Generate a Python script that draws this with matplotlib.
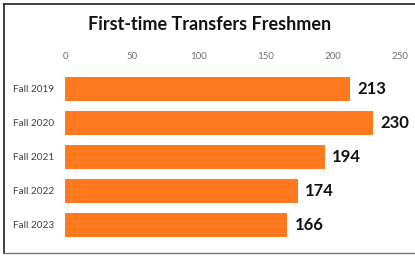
import matplotlib
matplotlib.use("Agg")
import matplotlib.pyplot as plt
from matplotlib.lines import Line2D

categories = ["Fall 2019", "Fall 2020", "Fall 2021", "Fall 2022", "Fall 2023"]
values = [213, 230, 194, 174, 166]
xticks = [0, 50, 100, 150, 200, 250]
title = "First-time Transfers Freshmen"

plt.rcParams['font.family'] = ['Lato', 'DejaVu Sans']

fig = plt.figure(figsize=(4.15, 2.57), dpi=100)
W, H = 415, 257
ax = fig.add_axes([65 / W, 1 - 242 / H, (400 - 65) / W, 170 / H])

ypos = list(range(len(categories)))
ax.barh(ypos, values, height=0.7, color="#FF7A1E", edgecolor="none")
ax.set_ylim(len(categories) - 0.5, -0.5)
ax.set_xlim(0, 250)
ax.set_yticks(ypos)
ax.set_yticklabels(categories, fontsize=7.2, color="#404040")
ax.set_xticks(xticks)
ax.set_xticklabels([str(t) for t in xticks], fontsize=7, color="#6f6f6f")
ax.xaxis.tick_top()
ax.tick_params(axis='x', length=0, pad=8)
ax.tick_params(axis='y', length=0, pad=8)
for s in ax.spines.values():
    s.set_visible(False)

for y, v in zip(ypos, values):
    ax.annotate(str(v), xy=(v, y), xytext=(5, 0), textcoords="offset points",
                ha="left", va="center", fontsize=12, fontweight="bold", color="#111111")

fig.text(210 / W, 1 - 25 / H, title, ha="center", va="center",
         fontsize=13, fontweight="bold", color="#111111")

# outer frame
fig.add_artist(Line2D([3.5 / W, 3.5 / W], [1 - 4 / H, 1 - 253 / H], transform=fig.transFigure, color="#222222", lw=1.2))
fig.add_artist(Line2D([3.5 / W, 1], [1 - 4 / H, 1 - 4 / H], transform=fig.transFigure, color="#222222", lw=1.2))
fig.add_artist(Line2D([3.5 / W, 1], [1 - 253 / H, 1 - 253 / H], transform=fig.transFigure, color="#777777", lw=1.0))

fig.savefig("out.png", dpi=100)
